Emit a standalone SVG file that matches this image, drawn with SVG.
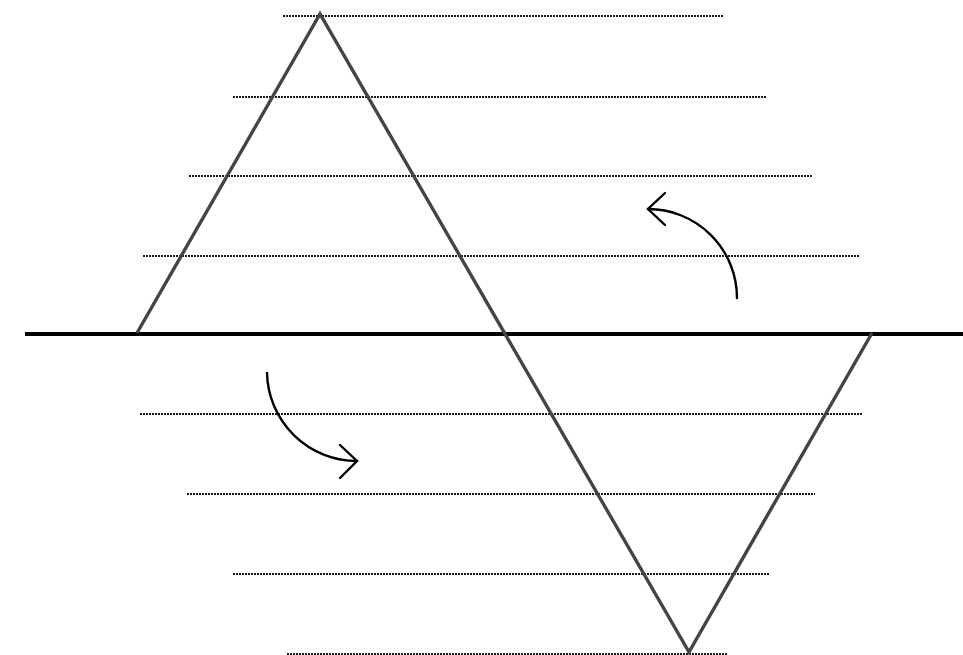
<svg xmlns="http://www.w3.org/2000/svg" width="963" height="655" viewBox="0 0 963 655">
  <style>
    .dot { stroke: #1a1a1a; stroke-width: 2; stroke-dasharray: 2 1; fill: none; }
    .axis { stroke: #000; stroke-width: 4; fill: none; }
    .zig { stroke: #444; stroke-width: 3.4; fill: none; stroke-linejoin: miter; }
    .arr { stroke: #000; stroke-width: 2.4; fill: none; stroke-linecap: round; }
  </style>
  <rect width="963" height="655" fill="#fff"/>
  <g id="levels">
    <line class="dot" x1="283" y1="16" x2="724" y2="16"/>
    <line class="dot" x1="233" y1="97" x2="767" y2="97"/>
    <line class="dot" x1="189" y1="176" x2="813" y2="176"/>
    <line class="dot" x1="143" y1="256" x2="859" y2="256"/>
    <line class="dot" x1="140" y1="414" x2="862" y2="414"/>
    <line class="dot" x1="187" y1="494" x2="815" y2="494"/>
    <line class="dot" x1="233" y1="574" x2="770" y2="574"/>
    <line class="dot" x1="287" y1="654" x2="727" y2="654"/>
  </g>
  <g id="axis">
    <line class="axis" x1="25" y1="334" x2="963" y2="334"/>
  </g>
  <g id="wave">
    <polyline class="zig" points="137,333 320,14 689,652 872,333"/>
  </g>
  <g id="connectors">
    <path class="arr" d="M737,298 A89,89 0 0 0 648,209"/>
    <path class="arr" d="M665,193 L648,209 L665,225"/>
    <path class="arr" d="M267,373 A90,90 0 0 0 357,461"/>
    <path class="arr" d="M340,445 L357,461 L340,478"/>
  </g>
</svg>
